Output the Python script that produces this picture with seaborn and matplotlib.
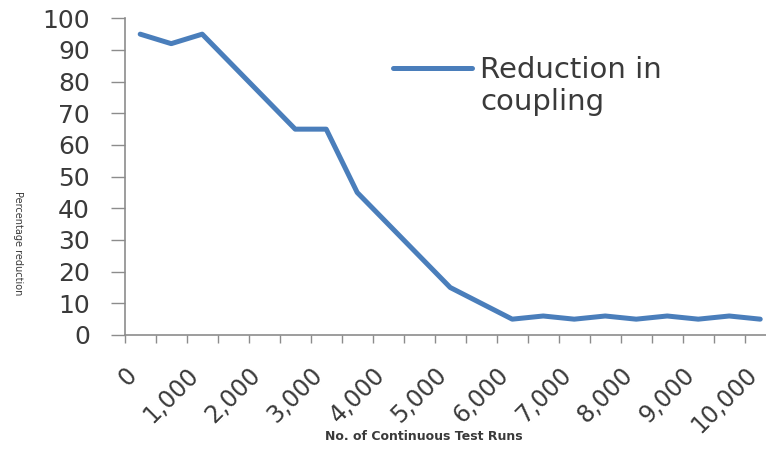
import numpy as np
import pandas as pd
import matplotlib
matplotlib.use("Agg")
import matplotlib.pyplot as plt
from matplotlib.lines import Line2D
from matplotlib.legend_handler import HandlerLine2D
from matplotlib.transforms import ScaledTranslation
import seaborn as sns

# Number of continuous test runs (categories) and measured reduction (%)
runs = [0, 500, 1000, 1500, 2000, 2500, 3000, 3500, 4000, 4500, 5000,
        5500, 6000, 6500, 7000, 7500, 8000, 8500, 9000, 9500, 10000]
reduction = [95, 92, 95, 85, 75, 65, 65, 45, 35, 25, 15,
             10, 5, 6, 5, 6, 5, 6, 5, 6, 5]
# Category labels shown on the axis (every second run count)
run_labels = ["0", "1,000", "2,000", "3,000", "4,000", "5,000",
              "6,000", "7,000", "8,000", "9,000", "10,000"]
series_name = "Reduction in\ncoupling"
y_ticks = [0, 10, 20, 30, 40, 50, 60, 70, 80, 90, 100]

LINE_COLOR = "#4A7EBB"
AXIS_COLOR = "#8C8C8C"
TEXT_COLOR = "#3A3A3A"

sns.set_style("white")
plt.rcParams["font.family"] = ["DejaVu Sans"]


class FirstLineHandler(HandlerLine2D):
    """Legend line aligned with the first line of a two-line label."""

    def __init__(self, lift, **kw):
        super().__init__(**kw)
        self.lift = lift

    def create_artists(self, legend, orig_handle, xdescent, ydescent,
                       width, height, fontsize, trans):
        artists = super().create_artists(legend, orig_handle, xdescent, ydescent,
                                         width, height, fontsize, trans)
        for a in artists:
            a.set_ydata(np.asarray(a.get_ydata(), dtype=float) + self.lift)
        return artists


fig = plt.figure(figsize=(7.66, 4.49), dpi=100)
ax = fig.add_axes([0.1628, 0.2539, 0.8499, 0.7053])

df = pd.DataFrame({"pos": np.arange(len(runs)), "reduction": reduction})
sns.lineplot(data=df, x="pos", y="reduction", ax=ax, color=LINE_COLOR,
             linewidth=3.6, label=series_name, solid_capstyle="round",
             solid_joinstyle="round")

# Category axis: labels on every second category, tick marks between categories
ax.set_xlim(-0.5, len(runs) - 0.5)
ax.set_xticks(np.arange(0, len(runs), 2))
ax.set_xticklabels(run_labels, rotation=45, ha="right", va="center",
                   rotation_mode="anchor", fontsize=17, color=TEXT_COLOR)
ax.set_xticks(np.arange(-0.5, len(runs), 1), minor=True)
ax.tick_params(axis="x", which="major", length=0, pad=26)
ax.tick_params(axis="x", which="minor", length=6, width=1, color=AXIS_COLOR,
               direction="out", bottom=True)
nudge = ScaledTranslation(-5 / 72, 0, fig.dpi_scale_trans)
for lbl in ax.get_xticklabels():
    lbl.set_transform(lbl.get_transform() + nudge)

ax.set_ylim(0, 100)
ax.set_yticks(y_ticks)
ax.tick_params(axis="y", which="major", length=10, width=1, color=AXIS_COLOR,
               direction="out", left=True, pad=15, labelsize=18,
               labelcolor=TEXT_COLOR)

for side in ("top", "right"):
    ax.spines[side].set_visible(False)
for side in ("left", "bottom"):
    ax.spines[side].set_color(AXIS_COLOR)
    ax.spines[side].set_linewidth(1.2)
ax.grid(False)

ax.set_xlabel("No. of Continuous Test Runs", fontsize=9, fontweight="bold",
              color=TEXT_COLOR, va="center")
ax.xaxis.set_label_coords(0.46, -0.322)
ax.set_ylabel("Percentage reduction", fontsize=7, color=TEXT_COLOR,
              rotation=270, ha="center", va="center")
ax.yaxis.set_label_coords(-0.164, 0.29)

ax.legend(loc="upper left", bbox_to_anchor=(393 / 766, 1 - 56 / 449),
          bbox_transform=fig.transFigure, frameon=False, fontsize=21,
          handlelength=2.7, handletextpad=0.3, borderpad=0, borderaxespad=0,
          labelcolor=TEXT_COLOR,
          handler_map={Line2D: FirstLineHandler(lift=13.5)})

fig.savefig("out.png", dpi=100)
